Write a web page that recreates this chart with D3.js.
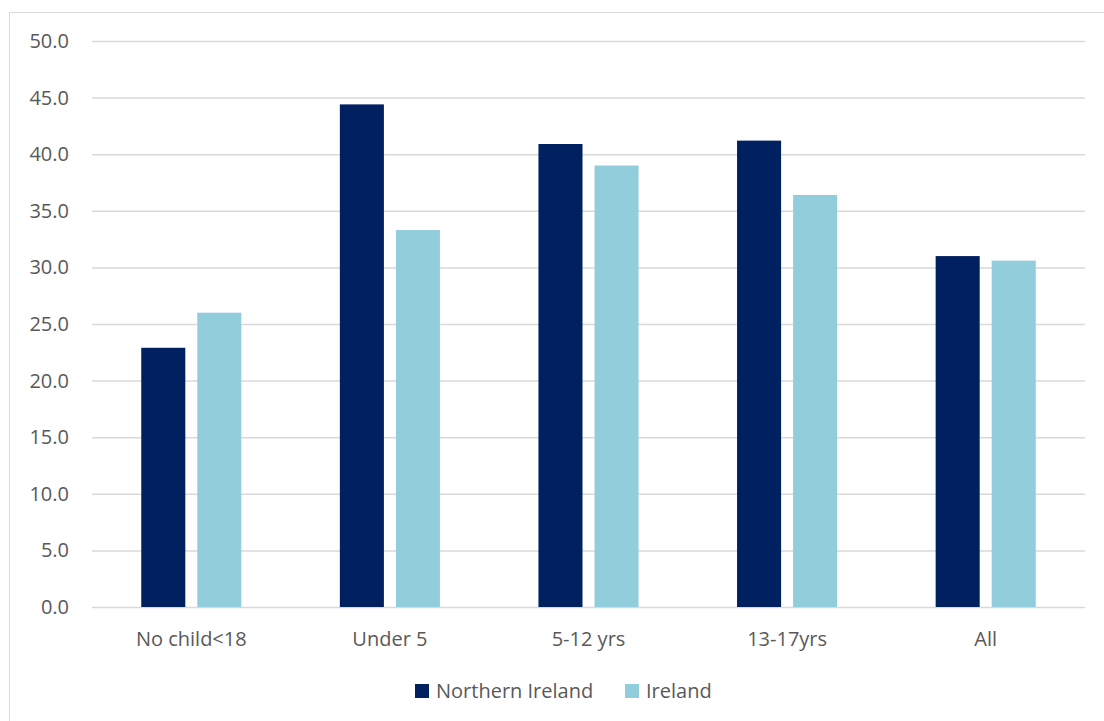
<!DOCTYPE html>
<html>
<head>
<meta charset="utf-8">
<script src="https://cdn.jsdelivr.net/npm/d3@7"></script>
<style>
  html, body { margin: 0; padding: 0; background: #fff; }
  svg { display: block; }
  svg text { font-family: "Open Sans", "Noto Sans", sans-serif; }
</style>
</head>
<body>
<svg id="chart" width="1104" height="721"></svg>
<script>
// Household groups and the two series compared across them
const categories = ["No child<18", "Under 5", "5-12 yrs", "13-17yrs", "All"];
const seriesNames = ["Northern Ireland", "Ireland"];
const northernIreland = [22.9, 44.4, 40.9, 41.2, 31.0];
const ireland = [26.0, 33.3, 39.0, 36.4, 30.6];
const yTicks = [0, 5, 10, 15, 20, 25, 30, 35, 40, 45, 50];
const colors = ["#002060", "#92CDDC"];

const seriesValues = [northernIreland, ireland];
const rows = categories.map((c, i) => ({
  category: c,
  values: seriesNames.map((s, j) => ({ key: s, value: seriesValues[j][i], color: colors[j] }))
}));

const svg = d3.select("#chart");
const fontSize = "20px";
const textColor = "#595959";

// Outer chart frame
svg.append("rect")
  .attr("x", 9.5).attr("y", 12.5)
  .attr("width", 1110).attr("height", 720)
  .attr("fill", "none").attr("stroke", "#d9d9d9").attr("stroke-width", 1);

const plot = { left: 92, right: 1085, top: 41, bottom: 607 };

const y = d3.scaleLinear().domain([0, 50]).range([plot.bottom, plot.top]);

const x0 = d3.scaleBand()
  .domain(categories)
  .range([plot.left, plot.right])
  .paddingInner(0.496)
  .paddingOuter(0.248);

const x1 = d3.scaleBand()
  .domain(seriesNames)
  .range([0, x0.bandwidth()])
  .paddingInner(0.214);

// Horizontal gridlines with value labels
const yAxis = d3.axisLeft(y)
  .tickValues(yTicks)
  .tickFormat(d3.format(".1f"))
  .tickSize(-(plot.right - plot.left))
  .tickPadding(23);

const gy = svg.append("g")
  .attr("transform", `translate(${plot.left},0)`)
  .call(yAxis);
gy.attr("font-family", null);
gy.select(".domain").remove();
gy.selectAll(".tick line").attr("stroke", "#d9d9d9").attr("stroke-width", 1.5);
gy.selectAll(".tick text")
  .attr("fill", textColor)
  .style("font-size", fontSize);

// Bars
const groups = svg.append("g")
  .selectAll("g")
  .data(rows)
  .join("g")
  .attr("transform", d => `translate(${x0(d.category)},0)`);

groups.selectAll("rect")
  .data(d => d.values)
  .join("rect")
  .attr("x", d => x1(d.key))
  .attr("y", d => y(d.value))
  .attr("width", x1.bandwidth())
  .attr("height", d => y(0) - y(d.value))
  .attr("fill", d => d.color);

// Category labels
const xAxis = d3.axisBottom(x0).tickSize(0).tickPadding(25);
const gx = svg.append("g")
  .attr("transform", `translate(0,${plot.bottom})`)
  .call(xAxis);
gx.attr("font-family", null);
gx.select(".domain").remove();
gx.selectAll(".tick text")
  .attr("fill", textColor)
  .style("font-size", fontSize);

// Legend
const legend = svg.append("g").attr("transform", "translate(415,691)");
const legendOffsets = [0, 210];
const items = legend.selectAll("g")
  .data(seriesNames)
  .join("g")
  .attr("transform", (d, i) => `translate(${legendOffsets[i]},0)`);
items.append("rect")
  .attr("x", 0).attr("y", -7)
  .attr("width", 14).attr("height", 14)
  .attr("fill", (d, i) => colors[i]);
items.append("text")
  .attr("x", 21).attr("y", 0)
  .attr("dy", "0.35em")
  .attr("fill", textColor)
  .style("font-size", fontSize)
  .text(d => d);
</script>
</body>
</html>
